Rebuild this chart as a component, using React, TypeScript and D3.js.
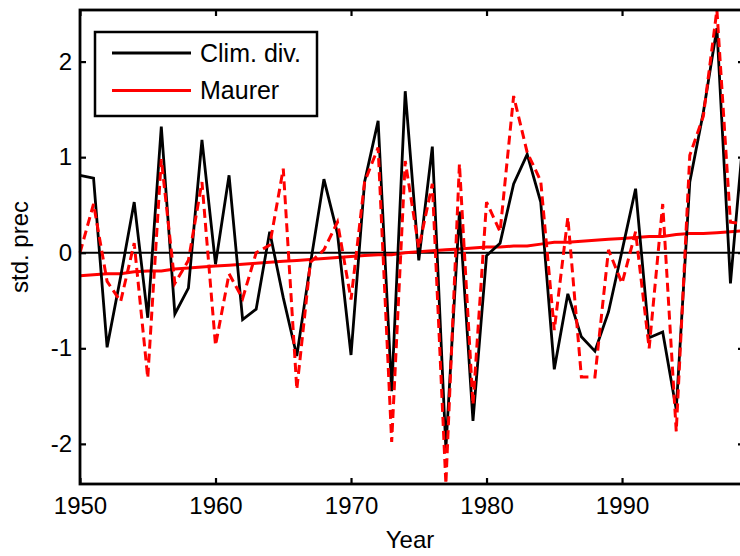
import React, { useEffect, useRef } from "react";
import * as d3 from "d3";

// years 1950..1999
const years = d3.range(1950, 2000);

// standardized precip, climate division
const climDiv = [
  0.81, 0.78, -0.99, -0.25, 0.53, -0.68, 1.32, -0.64, -0.37, 1.18,
  -0.12, 0.81, -0.70, -0.59, 0.22, -0.47, -1.08, -0.12, 0.77, 0.20,
  -1.07, 0.74, 1.38, -1.45, 1.69, -0.08, 1.11, -2.05, 0.43, -1.76,
  -0.03, 0.10, 0.72, 1.03, 0.53, -1.22, -0.43, -0.88, -1.03, -0.62,
  0.02, 0.67, -0.89, -0.83, -1.64, 0.74, 1.47, 2.35, -0.32, 1.30,
];

// standardized precip, Maurer
const maurer = [
  0.0, 0.51, -0.30, -0.51, 0.10, -1.31, 0.98, -0.32, -0.08, 0.74,
  -0.97, -0.22, -0.48, 0.0, 0.08, 0.88, -1.43, -0.10, 0.03, 0.32,
  -0.49, 0.74, 1.10, -1.98, 0.96, 0.05, 0.72, -2.42, 0.93, -1.59,
  0.53, 0.22, 1.64, 1.05, 0.75, -0.81, 0.37, -1.30, -1.30, 0.03,
  -0.32, 0.22, -1.00, 0.51, -1.87, 1.02, 1.43, 2.54, 0.32, 0.30,
];

// slow trend of the Maurer series
const maurerTrend = [
  -0.24, -0.23, -0.22, -0.22, -0.20, -0.19, -0.19, -0.17, -0.16, -0.15,
  -0.14, -0.13, -0.12, -0.11, -0.10, -0.09, -0.08, -0.07, -0.06, -0.05,
  -0.04, -0.03, -0.02, -0.02, 0.00, 0.01, 0.02, 0.03, 0.04, 0.05,
  0.06, 0.06, 0.07, 0.07, 0.09, 0.11, 0.11, 0.12, 0.13, 0.14,
  0.15, 0.16, 0.17, 0.17, 0.19, 0.20, 0.20, 0.21, 0.22, 0.23,
];

const xTicks = [1950, 1960, 1970, 1980, 1990];
const yTicks = [-2, -1, 0, 1, 2];
const legendItems = ["Clim. div.", "Maurer"];
const legendColors = ["#000", "#ff0000"];

const W = 740;
const H = 556;
const FONT = "'Liberation Sans', Arial, Helvetica, sans-serif";

function App() {
  const svgRef = useRef<SVGSVGElement | null>(null);

  useEffect(() => {
    const svg = d3.select(svgRef.current);
    svg.selectAll("*").remove();

    const left = 80, right = 744, top = 10, bottom = 484;

    const x = d3.scaleLinear().domain([1950, 1999]).range([left, right]);
    const y = d3.scaleLinear().domain([-2.42, 2.54]).range([bottom, top]);

    const g = svg.append("g");

    // zero line
    g.append("line")
      .attr("x1", x(1950)).attr("x2", x(1999))
      .attr("y1", y(0)).attr("y2", y(0))
      .attr("stroke", "#000").attr("stroke-width", 2.2);

    const line = d3.line<number>()
      .x((_, i) => x(years[i]))
      .y(d => y(d));

    g.append("path")
      .datum(maurerTrend)
      .attr("d", line)
      .attr("fill", "none")
      .attr("stroke", "#ff0000")
      .attr("stroke-width", 3);

    g.append("path")
      .datum(climDiv)
      .attr("d", line)
      .attr("fill", "none")
      .attr("stroke", "#000")
      .attr("stroke-width", 2.8);

    g.append("path")
      .datum(maurer)
      .attr("d", line)
      .attr("fill", "none")
      .attr("stroke", "#ff0000")
      .attr("stroke-width", 3)
      .attr("stroke-dasharray", "9,5");

    // matlab style labels use a plain hyphen for negatives
    const fmt = (d: any) => String(d);

    // axes, ticks pointing inward on all four sides
    const xAxis = d3.axisBottom(x).tickValues(xTicks).tickSize(-6).tickPadding(13).tickFormat(fmt);
    const yAxis = d3.axisLeft(y).tickValues(yTicks).tickSize(-6).tickPadding(8).tickFormat(fmt);

    const styleAxis = (sel: any) => {
      sel.select(".domain").remove();
      sel.selectAll("line").attr("stroke", "#000").attr("stroke-width", 2.2);
      sel.selectAll("text")
        .attr("fill", "#000")
        .style("font-family", FONT)
        .style("font-size", "24px");
    };

    svg.append("g")
      .attr("transform", `translate(0,${bottom})`)
      .call(xAxis)
      .call(styleAxis);

    svg.append("g")
      .attr("transform", `translate(${left},0)`)
      .call(yAxis)
      .call(styleAxis);

    svg.append("g")
      .attr("transform", `translate(0,${top})`)
      .call(d3.axisTop(x).tickValues(xTicks).tickSize(-6).tickFormat(() => ""))
      .call(styleAxis);

    svg.append("g")
      .attr("transform", `translate(${right},0)`)
      .call(d3.axisRight(y).tickValues(yTicks).tickSize(-6).tickFormat(() => ""))
      .call(styleAxis);

    // frame
    svg.append("rect")
      .attr("x", left).attr("y", top)
      .attr("width", right - left).attr("height", bottom - top)
      .attr("fill", "none")
      .attr("stroke", "#000")
      .attr("stroke-width", 2.8);

    // axis labels
    svg.append("text")
      .attr("x", (left + right) / 2 - 2)
      .attr("y", 548)
      .attr("text-anchor", "middle")
      .style("font-family", FONT)
      .style("font-size", "24px")
      .text("Year");

    svg.append("text")
      .attr("transform", `translate(28,${(top + bottom) / 2}) rotate(-90)`)
      .attr("text-anchor", "middle")
      .style("font-family", FONT)
      .style("font-size", "24px")
      .text("std. prec");

    // legend
    const lg = svg.append("g");
    lg.append("rect")
      .attr("x", 95).attr("y", 32)
      .attr("width", 222).attr("height", 84)
      .attr("fill", "#fff")
      .attr("stroke", "#000")
      .attr("stroke-width", 2.5);

    legendItems.forEach((name, i) => {
      const ly = 53 + i * 37.5;
      lg.append("line")
        .attr("x1", 112).attr("x2", 191)
        .attr("y1", ly).attr("y2", ly)
        .attr("stroke", legendColors[i])
        .attr("stroke-width", 3);
      lg.append("text")
        .attr("x", 200)
        .attr("y", ly + 8.5)
        .style("font-family", FONT)
        .style("font-size", "25px")
        .text(name);
    });
  }, []);

  return (
    <svg
      ref={svgRef}
      width={W}
      height={H}
      style={{ position: "absolute", left: 0, top: 0, background: "#fff" }}
    />
  );
}

export default App;
